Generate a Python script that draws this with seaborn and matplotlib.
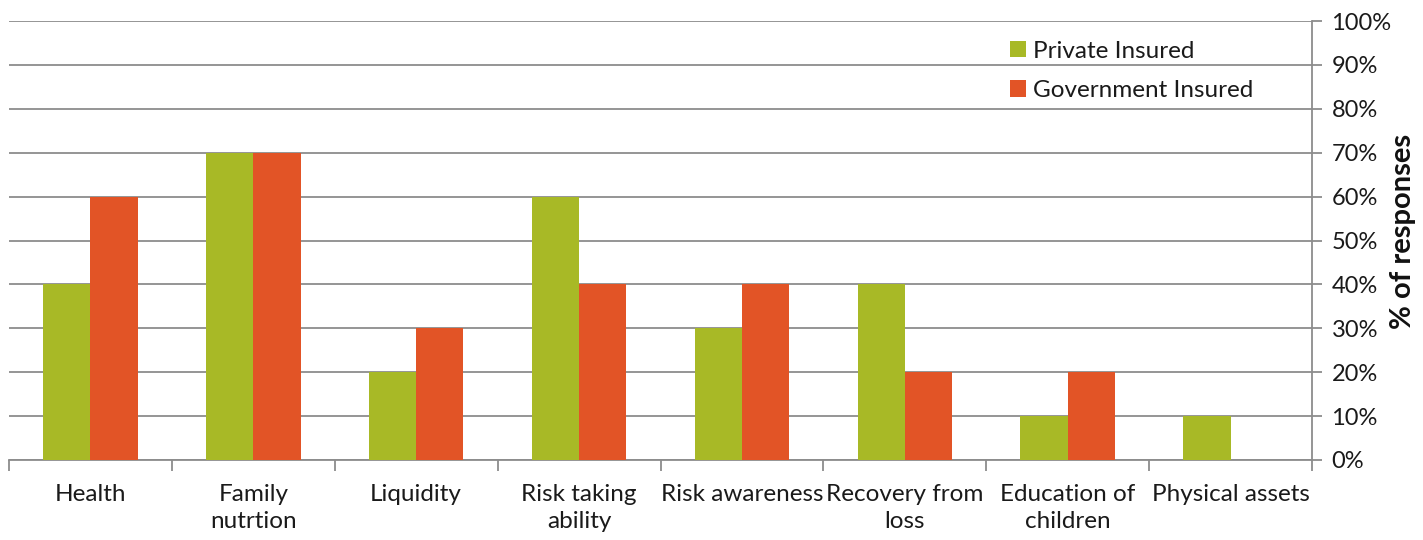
import matplotlib
matplotlib.use("Agg")
import matplotlib.pyplot as plt
import seaborn as sns
import pandas as pd
import numpy as np
from matplotlib.ticker import FixedLocator, PercentFormatter

categories = ["Health", "Family\nnutrtion", "Liquidity", "Risk taking\nability",
              "Risk awareness", "Recovery from\nloss", "Education of\nchildren", "Physical assets"]
private_insured = [40, 70, 20, 60, 30, 40, 10, 10]
government_insured = [60, 70, 30, 40, 40, 20, 20, 0]
series_names = ["Private Insured", "Government Insured"]
y_ticks = [0, 10, 20, 30, 40, 50, 60, 70, 80, 90, 100]

df = pd.DataFrame({
    "category": categories * 2,
    "value": private_insured + government_insured,
    "series": [series_names[0]] * len(categories) + [series_names[1]] * len(categories),
})

sns.set_style("white")
plt.rcParams["font.family"] = ["Lato", "DejaVu Sans"]

fig = plt.figure(figsize=(14.23, 5.40), dpi=100)
ax = fig.add_axes([9/1423, 1 - 460/540, (1312 - 9)/1423, (460 - 21)/540])

palette = {series_names[0]: "#A8B926", series_names[1]: "#E25426"}
sns.barplot(data=df, x="category", y="value", hue="series", order=categories,
            hue_order=series_names, palette=palette, width=0.58, saturation=1,
            ax=ax, zorder=3, linewidth=0)

ax.set_ylim(0, 100)
ax.set_xlim(-0.5, len(categories) - 0.5)
ax.yaxis.set_major_locator(FixedLocator(y_ticks))
ax.yaxis.set_major_formatter(PercentFormatter(decimals=0))
ax.yaxis.tick_right()
ax.yaxis.set_label_position("right")
ax.grid(axis="y", color="#8c8c8c", linewidth=1.3, zorder=0)
ax.grid(axis="x", visible=False)
ax.set_axisbelow(True)

for s in ["top", "left"]:
    ax.spines[s].set_visible(False)
for s in ["right", "bottom"]:
    ax.spines[s].set_color("#8c8c8c")
    ax.spines[s].set_linewidth(1.3)

ax.tick_params(axis="y", which="major", right=True, left=False, length=7, width=1.3,
               color="#8c8c8c", labelsize=17, pad=7, labelcolor="#1a1a1a")
# x: boundaries as minor ticks, labels on major
ax.set_xticks(np.arange(-0.5, len(categories), 1.0), minor=True)
ax.tick_params(axis="x", which="minor", bottom=True, length=8, width=1.3, color="#8c8c8c")
ax.tick_params(axis="x", which="major", bottom=False, length=0, labelsize=17.5, pad=17,
               labelcolor="#1a1a1a")
ax.set_xticks(range(len(categories)))
ax.set_xticklabels(categories, va="top", linespacing=1.4)

ax.set_xlabel("")
ax.set_ylabel("% of responses", fontsize=21, fontweight="bold", rotation=90,
              color="#111111", va="center")
ax.yaxis.set_label_coords(1.0695, 0.52)

leg = ax.legend(loc="upper left", bbox_to_anchor=(0.768, 0.955), frameon=False,
                fontsize=17.5, handlelength=0.65, handleheight=0.65,
                handletextpad=0.3, labelspacing=0.75, borderaxespad=0, borderpad=0)
for t in leg.get_texts():
    t.set_color("#1a1a1a")

fig.savefig("out.png", dpi=100)
